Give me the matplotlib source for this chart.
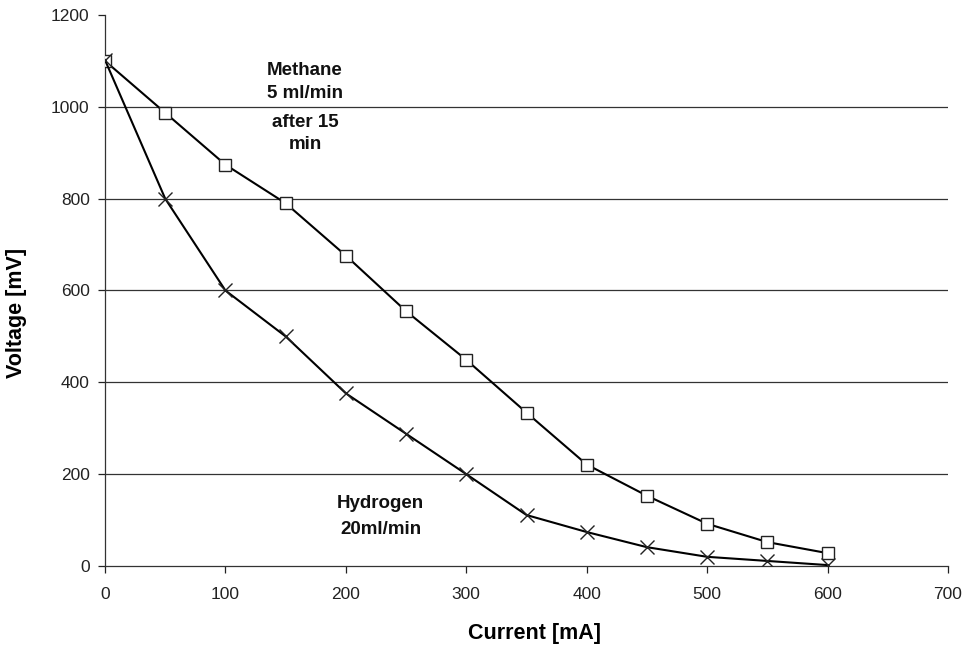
import numpy as np
import matplotlib
matplotlib.use('Agg')
import matplotlib.pyplot as plt

plt.rcParams['font.family'] = ['Liberation Sans', 'DejaVu Sans']

# Data
current = [0, 50, 100, 150, 200, 250, 300, 350, 400, 450, 500, 550, 600]
methane_v = [1100, 987, 874, 790, 676, 555, 449, 334, 221, 153, 92, 52, 28]
hydrogen_v = [1102, 800, 600, 500, 376, 288, 200, 111, 74, 41, 20, 11, 2]

x_ticks = [0, 100, 200, 300, 400, 500, 600, 700]
y_ticks = [0, 200, 400, 600, 800, 1000, 1200]
grid_levels = [200, 400, 600, 800, 1000]

fig = plt.figure(figsize=(9.69, 6.49), dpi=100)
ax = fig.add_axes([105 / 969, 1 - 566 / 649, 843 / 969, 551 / 649])

# horizontal grid lines
for g in grid_levels:
    ax.axhline(g, color='#333333', lw=0.9, zorder=1)

ax.plot(current, methane_v, color='black', lw=1.5, marker='s', ms=9,
        mfc='white', mec='#222222', mew=1.0, zorder=3)
ax.plot(current, hydrogen_v, color='black', lw=1.5, marker='x', ms=10,
        mec='#222222', mew=1.0, zorder=3)

ax.set_xlim(0, 700)
ax.set_ylim(0, 1200)
ax.set_xticks(x_ticks)
ax.set_yticks(y_ticks)
ax.tick_params(direction='out', length=5, width=0.9, labelsize=12.5, colors='#222222')
ax.tick_params(axis='x', pad=10)
ax.tick_params(axis='y', pad=6)
for s in ['top', 'right']:
    ax.spines[s].set_visible(False)
for s in ['left', 'bottom']:
    ax.spines[s].set_color('#333333')
    ax.spines[s].set_linewidth(0.9)

ax.set_xlabel('Current [mA]', fontsize=15.5, fontweight='bold')
ax.set_ylabel('Voltage [mV]', fontsize=15.5, fontweight='bold')
ax.xaxis.set_label_coords(0.51, -0.104)
ax.yaxis.set_label_coords(-0.092, 0.459)

# annotations, one line at a time
bold = dict(ha='center', va='center', fontsize=13.5, fontweight='bold', color='#111111')
ax.text(166, 1080, 'Methane', **bold)
ax.text(166, 1030, '5 ml/min', **bold)
ax.text(166, 965, 'after 15', **bold)
ax.text(166, 917, 'min', **bold)
ax.text(229, 137, 'Hydrogen', **bold)
ax.text(229, 79, '20ml/min', **bold)

fig.savefig('out.png', dpi=100)
